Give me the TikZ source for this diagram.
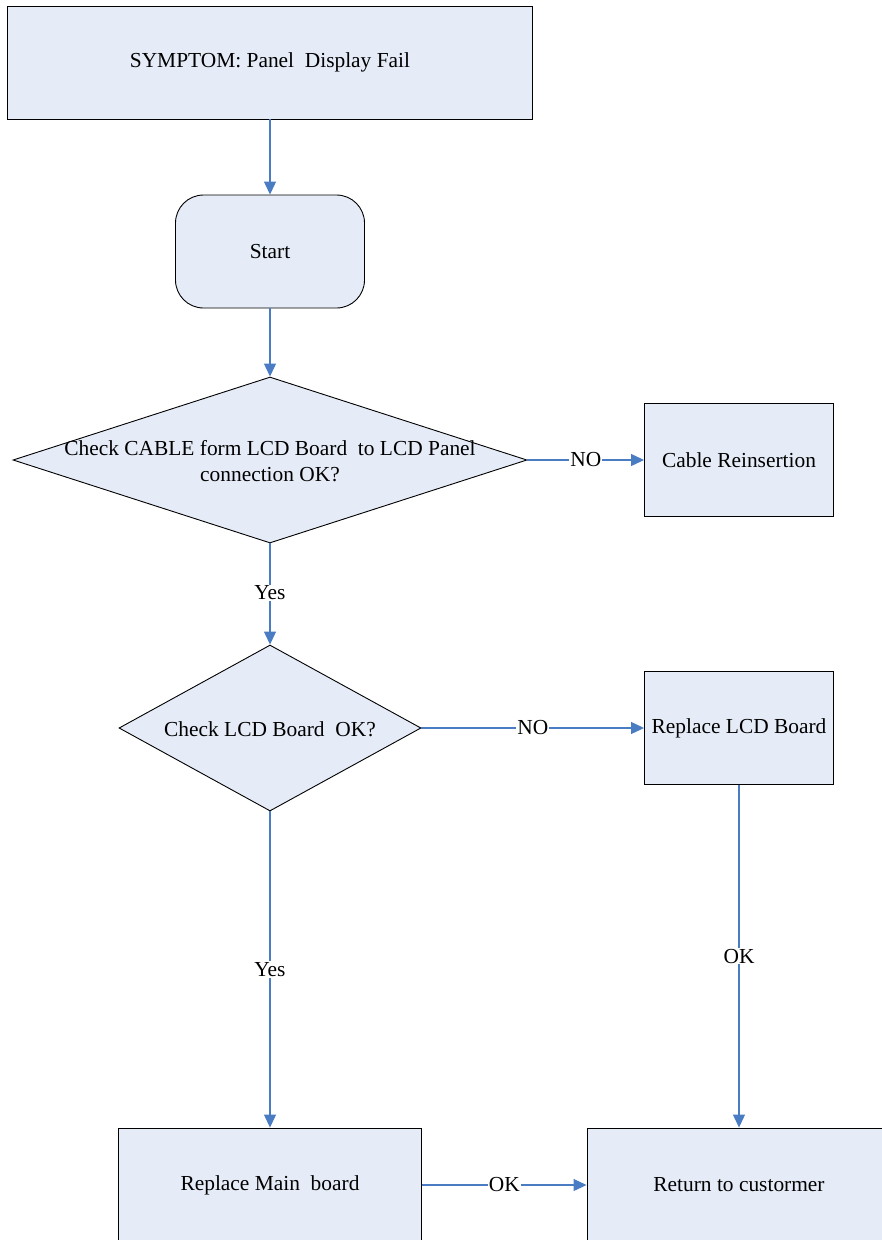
\documentclass[tikz,border=0pt]{standalone}
\usepackage{fontspec}
\setmainfont{Liberation Serif}
\usetikzlibrary{shapes.geometric,arrows.meta}
\definecolor{boxfill}{HTML}{E6ECF7}
\definecolor{linkblue}{HTML}{4A7CC4}
\begin{document}
\begin{tikzpicture}[x=1pt,y=-1pt,
  every node/.style={font=\fontsize{21.4}{26}\selectfont},
  box/.style={draw=black, line width=0.9pt, fill=boxfill, inner sep=0pt},
  rbox/.style={box, rounded corners=28pt},
  dia/.style={draw=black, line width=0.9pt, fill=boxfill, diamond, inner sep=0pt},
  link/.style={draw=linkblue, line width=1.1pt, -{Triangle[width=12pt,length=13pt]}},
  lab/.style={fill=white, inner sep=1pt}
]
\useasboundingbox (0,0) rectangle (882,1240);
\clip (0,0) rectangle (882,1240);

\node[box, minimum width=525pt, minimum height=113pt] (sym) at (270,62.5) {SYMPTOM: Panel\ \ Display Fail};
\node[rbox, minimum width=189pt, minimum height=113pt] (start) at (270,251.5) {Start};
\node[dia, minimum width=514pt, minimum height=166pt] (d1) at (270,460) {};
\node[align=center] (d1t) at (270,461) {Check CABLE form LCD Board\ \ to LCD Panel\\connection OK?};
\node[box, minimum width=189pt, minimum height=113pt] (cable) at (739,460) {Cable Reinsertion};
\node[dia, minimum width=302pt, minimum height=166pt] (d2) at (270,728) {};
\node (d2t) at (270,729) {Check LCD Board\ \ OK?};
\node[box, minimum width=189pt, minimum height=113pt] (rlcd) at (739,728) {Replace LCD Board};
\node[box, minimum width=303pt, minimum height=114pt] (main) at (270,1185) {Replace Main\ \ board};
\node[box, minimum width=304pt, minimum height=114pt] (ret) at (739,1185) {Return to custormer};

\draw[link] (sym.south) -- (start.north);
\draw[link] (start.south) -- (d1.north);
\draw[link] (d1.east) -- node[lab, pos=0.5] {NO} (cable.west);
\draw[link] (d1.south) -- node[lab, pos=0.49] {Yes} (d2.north);
\draw[link] (d2.east) -- node[lab, pos=0.5] {NO} (rlcd.west);
\draw[link] (d2.south) -- node[lab, pos=0.5] {Yes} (main.north);
\draw[link] (rlcd.south) -- node[lab, pos=0.5] {OK} (ret.north);
\draw[link] (main.east) -- node[lab, pos=0.5] {OK} (ret.west);
\end{tikzpicture}
\end{document}
